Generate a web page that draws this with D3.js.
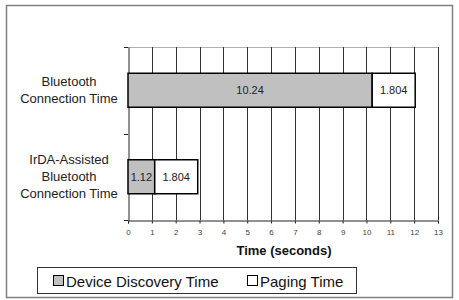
<!DOCTYPE html>
<html>
<head>
<meta charset="utf-8">
<script src="https://cdn.jsdelivr.net/npm/d3@7"></script>
<style>
  body { margin: 0; background: #fff; }
  svg text { font-family: Arial, "Liberation Sans", sans-serif; }
</style>
</head>
<body>
<div class="graph"></div>
<script>
// chart data
const categories = ["Bluetooth Connection Time", "IrDA-Assisted Bluetooth Connection Time"]
const categoryLines = [["Bluetooth", "Connection Time"], ["IrDA-Assisted", "Bluetooth", "Connection Time"]]
const discovery = [10.24, 1.12]
const paging = [1.804, 1.804]
const seriesNames = ["Device Discovery Time", "Paging Time"]
const xTicks = [0,1,2,3,4,5,6,7,8,9,10,11,12,13]

const W = 459, H = 300
let svg = d3.select('.graph')
    .append('svg')
    .attr("width", W)
    .attr("height", H)

// outer frame
svg.append('rect')
    .attr('x', 6.5).attr('y', 5.5)
    .attr('width', 446).attr('height', 292)
    .attr('fill', '#fff')
    .attr('stroke', '#808080')
    .attr('stroke-width', 1.5)

const x = d3.scaleLinear().domain([0, 13]).range([128, 438])
const y = d3.scaleBand().domain(categories).range([47, 220]).paddingInner(0).paddingOuter(0)

// top border of plot
svg.append('line')
    .attr('x1', x(0)).attr('x2', x(13))
    .attr('y1', 47.5).attr('y2', 47.5)
    .attr('stroke', '#b0b0b0')

// vertical grid
svg.selectAll('line.grid')
    .data(xTicks.slice(1))
    .enter()
    .append('line')
    .attr('class', 'grid')
    .attr('x1', d => Math.round(x(d)) + 0.5)
    .attr('x2', d => Math.round(x(d)) + 0.5)
    .attr('y1', 47).attr('y2', 220)
    .attr('stroke', '#333')
    .attr('stroke-width', 1)

// x axis
let xAxis = svg.append('g')
    .attr('transform', 'translate(0,220.5)')
    .call(d3.axisBottom(x).tickValues(xTicks).tickSize(3).tickPadding(6))
xAxis.select('.domain').attr('stroke', '#222')
xAxis.selectAll('.tick line').attr('stroke', '#222')
xAxis.selectAll('text').attr('font-size', 8).attr('fill', '#444')
    .style('font-family', 'Arial, "Liberation Sans", sans-serif')

// y axis
let yAxis = svg.append('g')
    .attr('transform', 'translate(128.5,0)')
    .call(d3.axisLeft(y).tickValues([]).tickSizeOuter(0))
yAxis.select('.domain').attr('stroke', '#222')
svg.selectAll('line.ytick')
    .data([47, y.bandwidth() + 47, 220])
    .enter()
    .append('line')
    .attr('x1', 124).attr('x2', 128)
    .attr('y1', d => Math.round(d) + 0.5).attr('y2', d => Math.round(d) + 0.5)
    .attr('stroke', '#222')

// bars
const barH = 34
const rows = categories.map((c, i) => ({ c: c, d: discovery[i], p: paging[i] }))
let g = svg.selectAll('g.row')
    .data(rows)
    .enter()
    .append('g')
    .attr('class', 'row')
g.append('rect')
    .attr('x', d => x(0))
    .attr('y', d => y(d.c) + y.bandwidth() / 2 - barH / 2)
    .attr('width', d => x(d.d) - x(0))
    .attr('height', barH)
    .attr('fill', '#c0c0c0')
    .attr('stroke', '#000')
    .attr('stroke-width', 1.5)
g.append('rect')
    .attr('x', d => x(d.d))
    .attr('y', d => y(d.c) + y.bandwidth() / 2 - barH / 2)
    .attr('width', d => x(d.d + d.p) - x(d.d))
    .attr('height', barH)
    .attr('fill', '#fff')
    .attr('stroke', '#000')
    .attr('stroke-width', 1.5)
g.append('text')
    .attr('x', d => (x(0) + x(d.d)) / 2)
    .attr('y', d => y(d.c) + y.bandwidth() / 2 + 4)
    .attr('text-anchor', 'middle')
    .attr('font-size', 11)
    .attr('fill', '#222')
    .text(d => d.d)
g.append('text')
    .attr('x', d => (x(d.d) + x(d.d + d.p)) / 2)
    .attr('y', d => y(d.c) + y.bandwidth() / 2 + 4)
    .attr('text-anchor', 'middle')
    .attr('font-size', 11)
    .attr('fill', '#222')
    .text(d => d.p)

// category labels
categories.forEach((c, i) => {
  const lines = categoryLines[i]
  const cy = y(c) + y.bandwidth() / 2
  const t = svg.append('text')
      .attr('text-anchor', 'middle')
      .attr('font-size', 13)
      .attr('fill', '#222')
  lines.forEach((s, j) => {
    t.append('tspan')
        .attr('x', 69)
        .attr('y', cy + (j - (lines.length - 1) / 2) * 17 + 4.5)
        .text(s)
  })
})

// axis title
svg.append('text')
    .attr('x', 284).attr('y', 255)
    .attr('text-anchor', 'middle')
    .attr('font-size', 13)
    .attr('font-weight', 'bold')
    .attr('fill', '#111')
    .text('Time (seconds)')

// legend
svg.append('rect')
    .attr('x', 37.5).attr('y', 267.5)
    .attr('width', 319).attr('height', 26)
    .attr('fill', '#fff')
    .attr('stroke', '#333')
const legendX = [53, 247]
const legendFill = ['#c0c0c0', '#fff']
seriesNames.forEach((s, i) => {
  svg.append('rect')
      .attr('x', legendX[i] + 0.5).attr('y', 275.5)
      .attr('width', 10).attr('height', 10)
      .attr('fill', legendFill[i])
      .attr('stroke', '#000')
  svg.append('text')
      .attr('x', legendX[i] + 13).attr('y', 286.5)
      .attr('font-size', 15)
      .attr('fill', '#111')
      .text(s)
})
</script>
</body>
</html>
